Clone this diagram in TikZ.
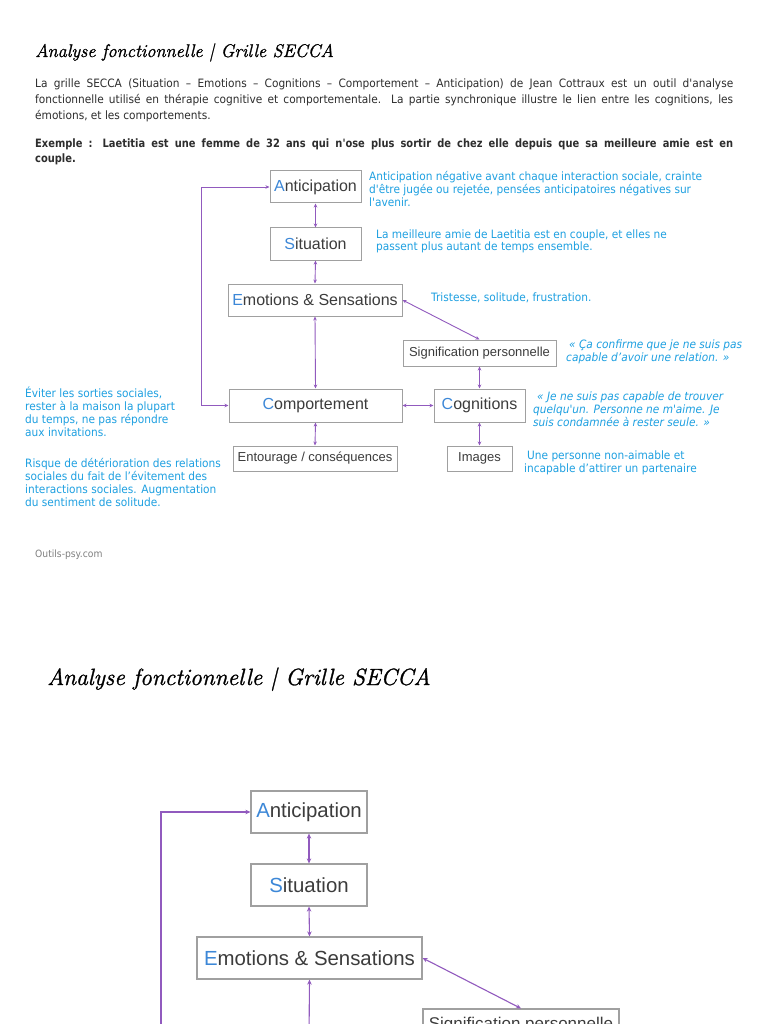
\documentclass[tikz,border=0pt]{standalone}
\usepackage{fontspec}
\usetikzlibrary{arrows.meta}
\newfontfamily\tah[FakeStretch=0.92]{DejaVu Sans}
\newfontfamily\tahb[FakeStretch=0.86]{DejaVu Sans}
\newfontfamily\helv{Liberation Sans}
\newfontfamily\ttlfont[FakeBold=1.2]{Latin Modern Roman}
\definecolor{arr}{RGB}{145,90,190}
\definecolor{ann}{RGB}{30,160,225}
\definecolor{bl}{RGB}{60,135,215}
\definecolor{bd}{RGB}{160,160,160}
\definecolor{tx}{RGB}{60,60,60}
\definecolor{para}{RGB}{45,45,45}
\newcommand\mylines[1]{\vtop{\halign{##\hfil\cr #1\crcr}}}
\begin{document}
\begin{tikzpicture}[x=1pt,y=-1pt,
  box/.style={draw=bd,line width=1pt,fill=white,inner sep=0pt,text=tx,font=\helv\fontsize{16}{16}\selectfont},
  sbox/.style={box,font=\helv\fontsize{13}{13}\selectfont},
  bbox/.style={box,line width=1.2pt,font=\helv\fontsize{20.4}{20}\selectfont},
  bsbox/.style={bbox,font=\helv\fontsize{17}{17}\selectfont},
  link/.style={draw=arr,line width=0.9pt,{Stealth[length=4pt,width=3.5pt]}-{Stealth[length=4pt,width=3.5pt]}},
  blink/.style={draw=arr,line width=1.1pt,{Stealth[length=5pt,width=4.5pt]}-{Stealth[length=5pt,width=4.5pt]}},
  bone/.style={draw=arr,line width=1.1pt,-{Stealth[length=5pt,width=4.5pt]}},
  note/.style={anchor=base west,inner sep=0pt,text=ann,font=\tah\fontsize{11.5}{13}\selectfont},
  inote/.style={note,font=\tah\itshape\fontsize{11.5}{13}\selectfont},
  plain/.style={anchor=base west,inner sep=0pt,text=para,font=\tah\fontsize{11.5}{16}\selectfont},
  ttl/.style={anchor=base west,inner sep=0pt,text=black,font=\ttlfont\itshape\fontsize{18.3}{19}\selectfont},
]
\useasboundingbox (0,0) rectangle (768,1024);
\clip (0,0) rectangle (768,1024);
\fill[white] (0,0) rectangle (768,1024);

% ---------- top page ----------
\node[ttl] (title1) at (35,57) {Analyse fonctionnelle | Grille SECCA};
\node[plain] (intro) at (35,88) {\vtop{%
  \hbox to 698pt{La grille SECCA (Situation – Emotions – Cognitions – Comportement – Anticipation) de Jean Cottraux est un outil d'analyse}
  \hbox to 698pt{fonctionnelle utilisé en thérapie cognitive et comportementale. La partie synchronique illustre le lien entre les cognitions, les}
  \hbox{émotions, et les comportements.}}};
\node[plain,font=\tahb\bfseries\fontsize{11.5}{15}\selectfont] (example) at (35,148) {\vtop{%
  \hbox to 698pt{Exemple : Laetitia est une femme de 32 ans qui n'ose plus sortir de chez elle depuis que sa meilleure amie est en}
  \hbox{couple.}}};

\node[box,minimum width=91pt,minimum height=32pt] (ant) at (315.5,187) {\textcolor{bl}{A}nticipation};
\node[box,minimum width=91pt,minimum height=32pt] (sit) at (315.5,244) {\textcolor{bl}{S}ituation};
\node[box,minimum width=174pt,minimum height=32pt] (emo) at (315,300) {\textcolor{bl}{E}motions \& Sensations};
\node[sbox,minimum width=153pt,minimum height=26pt] (sig) at (479.5,353) {Signification personnelle};
\node[box,minimum width=173pt,minimum height=33pt] (com) at (315.5,405.5) {\textcolor{bl}{C}omportement};
\node[box,minimum width=91pt,minimum height=33pt] (cog) at (479.5,405.5) {\textcolor{bl}{C}ognitions};
\node[sbox,minimum width=164pt,minimum height=25pt] (ent) at (315,458.5) {Entourage / conséquences};
\node[sbox,minimum width=65pt,minimum height=25pt] (img) at (479.5,458.5) {Images};

\draw[link] (ant.south) -- (sit.north);
\draw[link] (sit.south) -- (emo.north);
\draw[link] (emo.south) -- (com.north);
\draw[link] (com.south) -- (ent.north);
\draw[link] (emo.east) -- (sig.north);
\draw[link] (sig.south) -- (cog.north);
\draw[link] (cog.south) -- (img.north);
\draw[link] (com.east) -- (cog.west);
\draw[link] (com.west) -- ++(-27,0) |- (ant.west);

\node[note] (antnote) at (369,181) {\mylines{Anticipation négative avant chaque interaction sociale, crainte\cr d'être jugée ou rejetée, pensées anticipatoires négatives sur\cr l'avenir.}};
\node[note] (sitnote) at (376,238) {\mylines{La meilleure amie de Laetitia est en couple, et elles ne\cr passent plus autant de temps ensemble.}};
\node[note] (emonote) at (431,301) {Tristesse, solitude, frustration.};
\node[inote] (signote) at (566,348) {\mylines{\kern3pt« Ça confirme que je ne suis pas\cr capable d’avoir une relation. »}};
\node[inote] (cognote) at (533,400) {\mylines{\kern4pt« Je ne suis pas capable de trouver\cr quelqu'un. Personne ne m'aime. Je\cr suis condamnée à rester seule. »}};
\node[note] (imgnote) at (524,459) {\mylines{\kern3pt Une personne non-aimable et\cr incapable d’attirer un partenaire}};
\node[note] (comnote) at (25,397) {\mylines{Éviter les sorties sociales,\cr rester à la maison la plupart\cr du temps, ne pas répondre\cr aux invitations.}};
\node[note] (entnote) at (25,467) {\mylines{Risque de détérioration des relations\cr sociales du fait de l’évitement des\cr interactions sociales. Augmentation\cr du sentiment de solitude.}};
\node[anchor=base west,inner sep=0pt,text=gray,font=\tah\fontsize{10}{10}\selectfont] (src) at (35,557) {Outils-psy.com};

% ---------- bottom page ----------
\node[ttl,font=\ttlfont\itshape\fontsize{23.5}{24}\selectfont] (title2) at (47,685) {Analyse fonctionnelle | Grille SECCA};
\node[bbox,minimum width=116pt,minimum height=42pt] (ant2) at (309,812) {\textcolor{bl}{A}nticipation};
\node[bbox,minimum width=116pt,minimum height=42pt] (sit2) at (309,885) {\textcolor{bl}{S}ituation};
\node[bbox,minimum width=225pt,minimum height=42pt] (emo2) at (309.5,958) {\textcolor{bl}{E}motions \& Sensations};
\node[bsbox,minimum width=196pt,minimum height=33pt] (sig2) at (521,1025.5) {Signification personnelle};
\coordinate (loop2) at (161,1040);
\coordinate (com2) at (309,1040);

\draw[blink] (ant2.south) -- (sit2.north);
\draw[blink] (sit2.south) -- (emo2.north);
\draw[blink] (emo2.east) -- (sig2.north);
\draw[bone] (com2) -- (emo2.south);
\draw[bone] (loop2) |- (ant2.west);
\end{tikzpicture}
\end{document}
